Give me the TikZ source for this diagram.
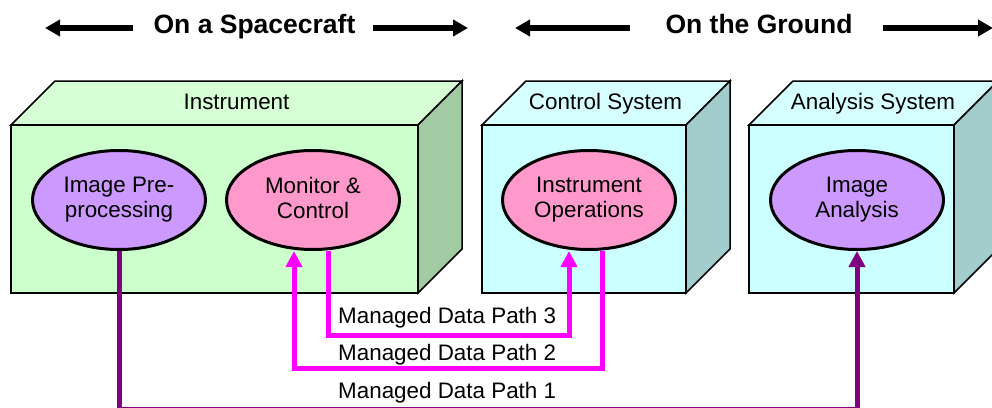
\documentclass[tikz,border=0pt]{standalone}
\usepackage{fontspec}
\setmainfont{Liberation Sans}
\usetikzlibrary{arrows.meta,shapes.geometric}

\definecolor{grnfront}{HTML}{CCFFCC}
\definecolor{grntop}{HTML}{D6FFD6}
\definecolor{grnside}{HTML}{A3CBA3}
\definecolor{cyanfront}{HTML}{CCFFFF}
\definecolor{cyantop}{HTML}{D6FFFF}
\definecolor{cyanside}{HTML}{A3CCCC}
\definecolor{procviolet}{HTML}{CC99FF}
\definecolor{procpink}{HTML}{FF99CC}
\definecolor{pathmagenta}{HTML}{FF00FF}
\definecolor{pathpurple}{HTML}{800080}

% cube: left x, right x, front top y, bottom y, front, top and side colours
\newcommand\systemcube[7]{%
  \filldraw[boxline,fill=#6] (#1,#3) -- (#2,#3) -- (#2+44,#3-44) -- (#1+44,#3-44) -- cycle;
  \filldraw[boxline,fill=#7] (#2,#3) -- (#2+44,#3-44) -- (#2+44,#4-44) -- (#2,#4) -- cycle;
  \filldraw[boxline,fill=#5] (#1,#3) rectangle (#2,#4);
}

\begin{document}
\begin{tikzpicture}[x=1pt,y=-1pt,
  boxline/.style={draw=black,line width=1.5pt,line join=miter},
  txt/.style={font=\fontsize{22.4}{25}\selectfont,inner sep=0pt},
  hdrtxt/.style={font=\fontsize{26.5}{30}\selectfont\bfseries,inner sep=0pt,anchor=base},
  hdrarrow/.style={line width=5.5pt,-{Triangle[length=15pt,width=16pt]}},
  process/.style={ellipse,draw=black,line width=3pt,minimum width=173pt,minimum height=99pt,
    inner sep=0pt,align=center,font=\fontsize{22.4}{25}\selectfont},
  magpath/.style={draw=pathmagenta,line width=5pt,line join=miter},
  purppath/.style={draw=pathpurple,line width=5pt,line join=miter},
  tipin/.style={-{Triangle[length=16pt,width=16pt]}},
  pathlabel/.style={txt,anchor=base west}]

\useasboundingbox (0,0) rectangle (992,407);

% header: extent of the spacecraft and ground segments
\node[hdrtxt] (space) at (254.5,33) {On a Spacecraft};
\node[hdrtxt] (ground) at (759,33) {On the Ground};
\coordinate (sL) at (45,28);   \coordinate (sLe) at (133,28);
\coordinate (sRe) at (373,28); \coordinate (sR) at (468,28);
\coordinate (gL) at (515,28);  \coordinate (gLe) at (630,28);
\coordinate (gRe) at (883,28); \coordinate (gR) at (993,28);
\draw[hdrarrow] (sLe) -- (sL);
\draw[hdrarrow] (sRe) -- (sR);
\draw[hdrarrow] (gLe) -- (gL);
\draw[hdrarrow] (gRe) -- (gR);

% the three systems
\systemcube{11}{418}{125}{293}{grnfront}{grntop}{grnside}
\systemcube{482}{686}{125}{293}{cyanfront}{cyantop}{cyanside}
\systemcube{749}{954}{125}{293}{cyanfront}{cyantop}{cyanside}

\node[txt,anchor=base] (instr) at (236.5,109.5) {Instrument};
\node[txt,anchor=base] (ctrl) at (605.5,109.5) {Control System};
\node[txt,anchor=base] (anal) at (873,109.5) {Analysis System};

% processes
\node[process,fill=procviolet] (ipp) at (119,200) {Image Pre-\\processing};
\node[process,fill=procpink]   (mc)  at (313,200) {Monitor \&\\Control\vphantom{p}};
\node[process,fill=procpink]   (io)  at (589,200) {Instrument\\Operations};
\node[process,fill=procviolet] (ia)  at (857,200) {Image\\Analysis};

% managed data paths
\draw[purppath,tipin] (ipp.south) |- (500,409) -| (ia.south);
\draw[magpath,tipin] ([xshift=13pt]io.south) |- (450,368) -| ([xshift=-19pt]mc.south);
\draw[magpath,tipin] ([xshift=15pt]mc.south) |- (450,335) -| ([xshift=-20pt]io.south);

\node[pathlabel] (p3) at (338,323) {Managed Data Path 3};
\node[pathlabel] (p2) at (338,360) {Managed Data Path 2};
\node[pathlabel] (p1) at (338,398) {Managed Data Path 1};
\end{tikzpicture}
\end{document}
